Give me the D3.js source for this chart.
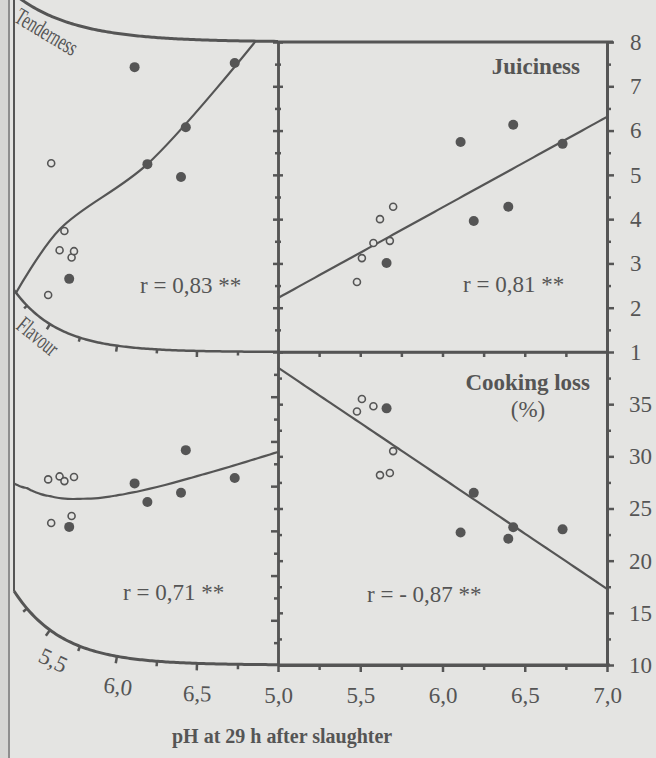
<!DOCTYPE html>
<html>
<head>
<meta charset="utf-8">
<script src="https://cdn.jsdelivr.net/npm/d3@7"></script>
<style>
  body { margin: 0; background: #e4e4e2; }
  svg { display: block; }
  text { font-family: "Liberation Serif", "DejaVu Serif", serif; fill: #555; }
</style>
</head>
<body>
<svg id="chart" width="656" height="758"></svg>
<script>
// 12 carcasses, the first six drawn as open circles, the last six filled
const pH          = [5.48, 5.51, 5.58, 5.62, 5.68, 5.70, 5.66, 6.11, 6.19, 6.40, 6.43, 6.73];
const filled      = [false, false, false, false, false, false, true, true, true, true, true, true];
const tenderness  = [1.63, 4.65, 2.78, 3.26, 2.73, 2.89, 2.23, 7.29, 5.14, 4.90, 6.02, 7.50];
const juiciness   = [2.58, 3.12, 3.46, 4.00, 3.51, 4.28, 3.01, 5.74, 3.96, 4.28, 6.13, 5.70];
const flavour     = [4.42, 3.47, 4.65, 4.60, 3.88, 4.79, 3.61, 4.95, 4.56, 4.81, 5.77, 5.17];
const cookingLoss = [34.3, 35.5, 34.8, 28.2, 28.4, 30.5, 34.6, 22.7, 26.5, 22.1, 23.2, 23.0];

// regression lines [pH, value]
const tendernessFit = [[5.04, 1.0], [5.583, 3.26], [6.19, 5.14], [6.86, 8.0]];
const juicinessFit  = [[5.0, 2.22], [7.0, 6.31]];
const flavourFit    = [[5.0, 3.5], [7.0, 5.76]];
const cookingFit    = [[5.0, 38.5], [7.0, 17.3]];

const rLabels = ["r = 0,83 **", "r = 0,81 **", "r = 0,71 **", "r = - 0,87 **"];
const scoreTicks = [1, 2, 3, 4, 5, 6, 7, 8];
const lossTicks = [10, 15, 20, 25, 30, 35];
const pHTicks = [5.0, 5.5, 6.0, 6.5, 7.0];

const ink = "#555";
const W = 656, H = 758;
const svg = d3.select("#chart");
svg.append("rect").attr("width", W).attr("height", H).attr("fill", "#e4e4e2");

const fmt = d3.formatLocale({decimal: ",", thousands: ".", grouping: [3], currency: ["", ""]}).format(".1f");

// scales (left half is squeezed towards the book spine)
const xL = d3.scaleLinear()
  .domain([5.0, 5.25, 5.5, 5.75, 6.0, 6.25, 6.5, 6.75, 7.0])
  .range([14, 27, 50, 80, 117, 157, 197, 238, 278]);
const xR = d3.scaleLinear().domain([5, 7]).range([278, 607]);
const yTop = d3.scaleLinear().domain([1, 8]).range([352, 42]);
const yFlav = d3.scaleLinear().domain([1, 8]).range([665, 352]);
const yCook = d3.scaleLinear().domain([10, 40]).range([665, 352]);

// page curl: things near the spine are lifted
const liftA = d3.scaleLinear().domain([42, 352, 665]).range([48, 62, 74]);
const liftL = d3.scaleLinear().domain([42, 352, 665]).range([60, 45, 48]);
const curl = (x, y) => [x, y - liftA(y) * Math.exp(-(x - 14) / liftL(y))];
const flat = (x, y) => [x, y];

const line = d3.line();

// gutter
svg.append("rect").attr("x", 0).attr("y", 0).attr("width", 9).attr("height", H).attr("fill", "#d6d6d4");
svg.append("line").attr("x1", 9).attr("x2", 9).attr("y1", 0).attr("y2", H)
  .attr("stroke", "#8e8e8e").attr("stroke-width", 2);

// curved borders of the left panels
const curvedBorder = (yv) => d3.range(14, 278.1, 2).map(x => curl(x, yv));
[[42, 3], [352, 2.5], [665, 3]].forEach(([yv, w]) => {
  svg.append("path").attr("d", line(curvedBorder(yv)))
    .attr("fill", "none").attr("stroke", ink).attr("stroke-width", w);
});
svg.append("line").attr("x1", 14).attr("x2", 14).attr("y1", 0).attr("y2", curl(14, 665)[1])
  .attr("stroke", ink).attr("stroke-width", 2);

// ticks along curved borders
function curvedTicks(yv, len) {
  d3.range(5.25, 6.8, 0.25).forEach(v => {
    const x = xL(v);
    const p0 = curl(x, yv);
    const s = (curl(x + 1, yv)[1] - curl(x - 1, yv)[1]) / 2;
    const n = Math.hypot(s, 1);
    const major = Math.abs(v * 2 - Math.round(v * 2)) < 1e-6;
    const l = major ? len : len - 2;
    svg.append("line")
      .attr("x1", p0[0]).attr("y1", p0[1])
      .attr("x2", p0[0] - s / n * l).attr("y2", p0[1] + l / n)
      .attr("stroke", ink).attr("stroke-width", 2.5);
  });
}
curvedTicks(352, 6);
curvedTicks(665, 7);

// left bottom tick labels follow the curl
[5.5, 6.0, 6.5].forEach(v => {
  const x = xL(v);
  const p = curl(x, 703);
  const s = (curl(x + 1, 665)[1] - curl(x - 1, 665)[1]) / 2;
  const a = Math.atan(s) * 180 / Math.PI * 0.7;
  svg.append("text")
    .attr("transform", `translate(${p[0]},${p[1]}) rotate(${a})`)
    .attr("text-anchor", "middle").attr("font-size", 23)
    .text(fmt(v));
});

// straight borders of the right panels
const borders = [
  [[278, 42], [613, 42], 3],
  [[278, 352], [607, 352], 2.5],
  [[278, 665], [610, 665], 3]
];
borders.forEach(([a, b, w]) => {
  svg.append("path").attr("d", line([a, b])).attr("stroke", ink).attr("stroke-width", w);
});

function styleAxis(g, w) {
  g.attr("font-family", "Liberation Serif, serif").attr("font-size", 23).style("color", ink);
  g.selectAll("line").attr("stroke-width", 2.5);
  g.selectAll("path.domain").attr("stroke-width", w);
  g.selectAll("text").attr("fill", ink);
}
function addAxis(axis, tx, ty, w) {
  const g = svg.append("g").attr("transform", `translate(${tx},${ty})`).call(axis);
  styleAxis(g, w);
  return g;
}

// right axis
addAxis(d3.axisRight(yTop).tickValues(scoreTicks).tickSize(7).tickPadding(16).tickSizeOuter(0).tickFormat(d3.format("d")), 607, 0, 3);
addAxis(d3.axisRight(yTop).tickValues(d3.range(1.5, 8, 1)).tickSize(4).tickSizeOuter(0).tickFormat(""), 607, 0, 3);
addAxis(d3.axisRight(yCook).tickValues(lossTicks).tickSize(7).tickPadding(15).tickSizeOuter(0).tickFormat(d3.format("d")), 607, 0, 3);
addAxis(d3.axisRight(yCook).tickValues(d3.range(12.5, 40, 5)).tickSize(4).tickSizeOuter(0).tickFormat(""), 607, 0, 3);

// divider between the two columns
addAxis(d3.axisLeft(yTop).tickValues(d3.range(1, 8.01, 1)).tickSize(5).tickSizeOuter(0).tickFormat(""), 278, 0, 2);
addAxis(d3.axisLeft(yTop).tickValues(d3.range(1.5, 8, 1)).tickSize(3).tickSizeOuter(0).tickFormat(""), 278, 0, 2);
addAxis(d3.axisRight(yTop).tickValues(d3.range(1, 8.01, 1)).tickSize(5).tickSizeOuter(0).tickFormat(""), 278, 0, 2);
addAxis(d3.axisRight(yTop).tickValues(d3.range(1.5, 8, 1)).tickSize(3).tickSizeOuter(0).tickFormat(""), 278, 0, 2);
addAxis(d3.axisLeft(yFlav).tickValues(d3.range(2, 8, 1)).tickSize(7).tickSizeOuter(0).tickFormat(""), 278, 0, 2);
addAxis(d3.axisLeft(yFlav).tickValues(d3.range(1.5, 8, 1)).tickSize(4).tickSizeOuter(0).tickFormat(""), 278, 0, 2);
addAxis(d3.axisRight(yCook).tickValues(d3.range(15, 40, 5)).tickSize(5).tickSizeOuter(0).tickFormat(""), 278, 0, 2);
addAxis(d3.axisRight(yCook).tickValues(d3.range(12.5, 40, 5)).tickSize(4).tickSizeOuter(0).tickFormat(""), 278, 0, 2);

// bottom pH axis (right column)
addAxis(d3.axisBottom(xR).tickValues(pHTicks).tickSize(7).tickPadding(15).tickSizeOuter(0).tickFormat(fmt), 0, 665, 3);
addAxis(d3.axisBottom(xR).tickValues(d3.range(5.25, 7, 0.5)).tickSize(5).tickSizeOuter(0).tickFormat(""), 0, 665, 3);
// ticks under the middle border (cooking loss panel)
addAxis(d3.axisBottom(xR).tickValues(d3.range(5.25, 7, 0.25)).tickSize(5).tickSizeOuter(0).tickFormat(""), 0, 352, 2.5);

// panels
const panels = [
  {x: xL, y: yTop, vals: tenderness, fit: tendernessFit, warp: curl, r: rLabels[0], rx: 140, ry: 293},
  {x: xR, y: yTop, vals: juiciness, fit: juicinessFit, warp: flat, r: rLabels[1], rx: 463, ry: 292},
  {x: xL, y: yFlav, vals: flavour, fit: flavourFit, warp: curl, r: rLabels[2], rx: 123, ry: 600},
  {x: xR, y: yCook, vals: cookingLoss, fit: cookingFit, warp: flat, r: rLabels[3], rx: 367, ry: 602}
];

function fitPoints(p) {
  let pts = p.fit;
  if (pts.length === 2) {
    const [a, b] = pts;
    pts = d3.range(0, 1.0001, 1 / 40).map(t => [a[0] + t * (b[0] - a[0]), a[1] + t * (b[1] - a[1])]);
  }
  return pts.map(d => p.warp(p.x(d[0]), p.y(d[1])));
}

panels.forEach(p => {
  svg.append("path")
    .attr("d", d3.line().curve(d3.curveCatmullRom)(fitPoints(p)))
    .attr("fill", "none").attr("stroke", ink).attr("stroke-width", 2.2);

  svg.append("g").selectAll("circle")
    .data(d3.range(pH.length))
    .join("circle")
    .attr("cx", i => p.warp(p.x(pH[i]), p.y(p.vals[i]))[0])
    .attr("cy", i => p.warp(p.x(pH[i]), p.y(p.vals[i]))[1])
    .attr("r", i => filled[i] ? 5 : 3.5)
    .attr("fill", i => filled[i] ? ink : "#e4e4e2")
    .attr("stroke", ink)
    .attr("stroke-width", i => filled[i] ? 0 : 1.6);

  svg.append("text").attr("x", p.rx).attr("y", p.ry).attr("font-size", 23).text(p.r);
});

// panel titles
svg.append("text").attr("transform", "translate(13,21) rotate(31) scale(0.64,1)")
  .attr("font-size", 24).text("Tenderness");
svg.append("text").attr("transform", "translate(15,328) rotate(39) scale(0.62,1)")
  .attr("font-size", 24).text("Flavour");
svg.append("text").attr("x", 580).attr("y", 74).attr("text-anchor", "end")
  .attr("font-size", 23).attr("font-weight", "bold").text("Juiciness");
svg.append("text").attr("x", 590).attr("y", 390).attr("text-anchor", "end")
  .attr("font-size", 23).attr("font-weight", "bold").text("Cooking loss");
svg.append("text").attr("x", 528).attr("y", 417).attr("text-anchor", "middle")
  .attr("font-size", 23).text("(%)");

// x axis title
svg.append("text").attr("x", 172).attr("y", 743)
  .attr("font-size", 20).attr("font-weight", "bold").text("pH at 29 h after slaughter");
</script>
</body>
</html>
